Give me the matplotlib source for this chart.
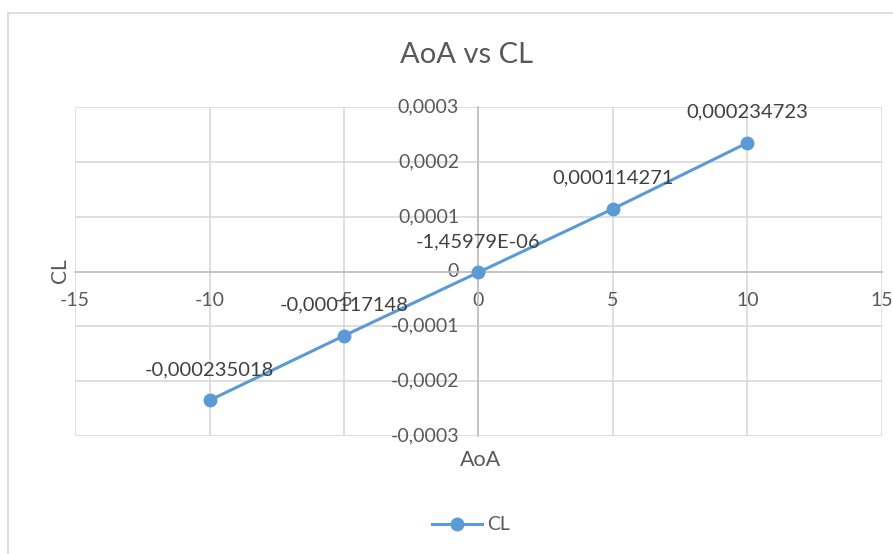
import matplotlib
matplotlib.use("Agg")
import matplotlib.pyplot as plt
from matplotlib.patches import Rectangle
from matplotlib.lines import Line2D

aoa = [-10, -5, 0, 5, 10]
cl = [-0.000235018, -0.000117148, -1.45979e-06, 0.000114271, 0.000234723]
point_labels = ["-0,000235018", "-0,000117148", "-1,45979E-06", "0,000114271", "0,000234723"]
x_ticks = [-15, -10, -5, 0, 5, 10, 15]
x_ticklabels = ["-15", "-10", "-5", "0", "5", "10", "15"]
y_ticks = [-0.0003, -0.0002, -0.0001, 0, 0.0001, 0.0002, 0.0003]
y_ticklabels = ["-0,0003", "-0,0002", "-0,0001", "0", "0,0001", "0,0002", "0,0003"]

W, H = 893, 554
plt.rcParams['font.family'] = ['Lato', 'DejaVu Sans']
fig = plt.figure(figsize=(W / 100, H / 100), dpi=100)
fig.patch.set_facecolor('white')

# outer chart border
fig.patches.append(Rectangle((8 / W, -0.1), 1.2, 1 - 13 / H + 0.1, transform=fig.transFigure,
                             fill=False, edgecolor='#d9d9d9', linewidth=1.2))

ax = fig.add_axes([75 / W, 1 - 436 / H, (882 - 75) / W, (436 - 107) / H])
ax.set_xlim(-15, 15)
ax.set_ylim(-0.0003, 0.0003)
ax.set_xticks(x_ticks)
ax.set_xticklabels(x_ticklabels)
ax.set_yticks(y_ticks)
ax.set_yticklabels(y_ticklabels)
ax.grid(True, color='#d9d9d9', linewidth=1.2)
ax.set_axisbelow(True)

for s in ['top', 'right']:
    ax.spines[s].set_visible(False)
ax.spines['left'].set_position(('data', 0))
ax.spines['bottom'].set_position(('data', 0))
ax.spines['left'].set_color('#bfbfbf')
ax.spines['bottom'].set_color('#bfbfbf')
ax.spines['left'].set_linewidth(1.2)
ax.spines['bottom'].set_linewidth(1.2)
ax.tick_params(axis='x', length=0, pad=15, labelsize=14, labelcolor='#595959')
ax.tick_params(axis='y', length=0, pad=14, labelsize=14, labelcolor='#595959')
for lbl in ax.get_yticklabels():
    lbl.set_verticalalignment('center')

ax.plot(aoa, cl, color='#5b9bd5', linewidth=2.2, marker='o', markersize=9, zorder=5,
        clip_on=False)
for x, y, t in zip(aoa, cl, point_labels):
    ax.annotate(t, (x, y), xytext=(0, 22), textcoords='offset points', ha='center',
                va='center', fontsize=14.5, color='#404040', zorder=6)

fig.text(466 / W, 1 - 55 / H, "AoA vs CL", ha='center', va='center', fontsize=21,
         color='#595959')
fig.text(60 / W, 1 - 271 / H, "CL", ha='center', va='center', rotation=90, fontsize=15,
         color='#595959')
fig.text(480 / W, 1 - 460 / H, "AoA", ha='center', va='center', fontsize=15.5,
         color='#595959')

# legend
fig.add_artist(Line2D([432 / W, 482 / W], [1 - 524 / H, 1 - 524 / H], transform=fig.transFigure,
                      color='#5b9bd5', linewidth=2.2, marker=None))
fig.add_artist(Line2D([457 / W], [1 - 524 / H], transform=fig.transFigure,
                      color='#5b9bd5', marker='o', markersize=9, linestyle='none'))
fig.text(487 / W, 1 - 524 / H, "CL", ha='left', va='center', fontsize=14, color='#595959')

fig.savefig("out.png", dpi=100)
